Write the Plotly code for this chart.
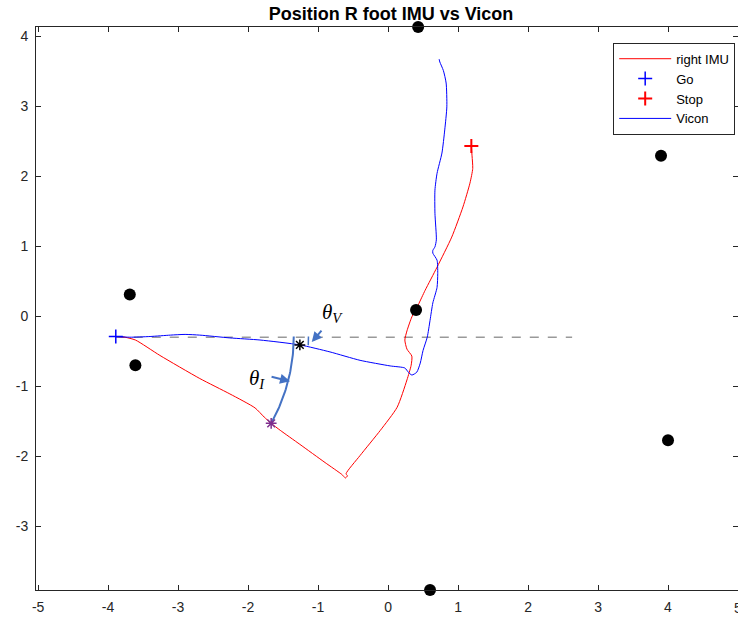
import numpy as np
import plotly.graph_objects as go

# IMU-estimated right foot track
imu_x = [-3.89, -3.76, -3.61, -3.26, -2.69, -2.26, -1.90, -1.77, -1.67, -1.54, -1.26, -0.90, -0.66,
         -0.64, -0.61, -0.58, -0.60, -0.40, -0.11, 0.13, 0.27, 0.33, 0.34, 0.27, 0.24, 0.27, 0.34,
         0.43, 0.53, 0.70, 0.91, 1.07, 1.17, 1.21, 1.20, 1.19]
imu_y = [-0.29, -0.30, -0.34, -0.56, -0.89, -1.11, -1.31, -1.44, -1.53, -1.63, -1.83, -2.09, -2.26,
         -2.28, -2.31, -2.28, -2.25, -1.99, -1.63, -1.30, -0.91, -0.70, -0.57, -0.47, -0.34, -0.21, -0.01,
         0.16, 0.37, 0.70, 1.13, 1.56, 1.90, 2.11, 2.29, 2.43]

# Vicon reference track
vicon_x = [-3.89, -3.69, -3.40, -3.11, -2.90, -2.69, -2.26, -1.83, -1.26, -0.83, -0.40, 0.03, 0.24,
           0.29, 0.34, 0.41, 0.46, 0.50, 0.56, 0.60, 0.64, 0.70, 0.71, 0.70, 0.64, 0.64, 0.67, 0.69,
           0.67, 0.67, 0.70, 0.77, 0.81, 0.84, 0.83, 0.79, 0.74, 0.73]
vicon_y = [-0.29, -0.30, -0.29, -0.27, -0.26, -0.27, -0.31, -0.34, -0.41, -0.51, -0.63, -0.71, -0.74,
           -0.80, -0.84, -0.80, -0.67, -0.49, -0.30, -0.06, 0.19, 0.41, 0.61, 0.80, 0.90, 0.94, 0.99, 1.09,
           1.47, 1.80, 2.04, 2.33, 2.66, 2.99, 3.33, 3.51, 3.63, 3.67]

go_point = (-3.89, -0.29)
stop_point = (1.19, 2.43)

# Landmarks
land_x = [0.43, -3.69, -3.61, 0.40, 3.90, 4.00, 0.60]
land_y = [4.13, 0.31, -0.70, 0.09, 2.29, -1.77, -3.91]

# Heading reference and the points where heading is measured
ref_x = [-3.89, 2.63]
ref_y = [-0.30, -0.30]
vicon_mark = (-1.26, -0.41)
imu_mark = (-1.67, -1.53)

x_ticks = list(range(-5, 6))
y_ticks = list(range(-3, 5))

AX = "#262626"
ARC = "#4472C4"
PURPLE = "#7E2F8E"

fig = go.Figure()

fig.add_trace(go.Scatter(x=ref_x, y=ref_y, mode="lines", showlegend=False,
                         line=dict(color="#999999", width=1.5, dash="dash")))
fig.add_trace(go.Scatter(x=imu_x, y=imu_y, mode="lines", name="right IMU",
                         line=dict(color="#FF0000", width=1, shape="spline", smoothing=0.6)))
fig.add_trace(go.Scatter(x=[go_point[0]], y=[go_point[1]], mode="markers", name="Go",
                         marker=dict(symbol="cross-thin", size=10, color="#0000FF",
                                     line=dict(color="#0000FF", width=1.5))))
fig.add_trace(go.Scatter(x=[stop_point[0]], y=[stop_point[1]], mode="markers", name="Stop",
                         marker=dict(symbol="cross-thin", size=10, color="#FF0000",
                                     line=dict(color="#FF0000", width=2))))
fig.add_trace(go.Scatter(x=vicon_x, y=vicon_y, mode="lines", name="Vicon",
                         line=dict(color="#0000FF", width=1, shape="spline", smoothing=0.6)))
fig.add_trace(go.Scatter(x=land_x, y=land_y, mode="markers", showlegend=False, cliponaxis=False,
                         marker=dict(color="black", size=12)))

# Angle arcs centred on the start point
def arc(center, end, radius):
    ang = np.arctan2(end[1] - center[1], end[0] - center[0])
    t = np.linspace(0, ang, 40)
    return center[0] + radius * np.cos(t), center[1] + radius * np.sin(t)

r_i = np.hypot(imu_mark[0] - go_point[0], imu_mark[1] - go_point[1])
ax_i, ay_i = arc(go_point, imu_mark, r_i)
fig.add_trace(go.Scatter(x=ax_i, y=ay_i, mode="lines", showlegend=False,
                         line=dict(color=ARC, width=2)))
r_v = np.hypot(vicon_mark[0] - go_point[0], vicon_mark[1] - go_point[1]) + 0.12
ax_v, ay_v = arc(go_point, vicon_mark, r_v)
fig.add_trace(go.Scatter(x=ax_v, y=ay_v, mode="lines", showlegend=False,
                         line=dict(color=ARC, width=1.5)))

fig.add_trace(go.Scatter(x=[vicon_mark[0]], y=[vicon_mark[1]], mode="markers", showlegend=False,
                         marker=dict(symbol="asterisk-open", size=9, color="black",
                                     line=dict(color="black", width=1.5))))
fig.add_trace(go.Scatter(x=[imu_mark[0]], y=[imu_mark[1]], mode="markers", showlegend=False,
                         marker=dict(symbol="asterisk-open", size=9, color=PURPLE,
                                     line=dict(color=PURPLE, width=1.5))))

# Angle labels and pointers
fig.add_annotation(x=-1.09, y=-0.37, ax=11, ay=-13, text="", showarrow=True,
                   arrowhead=2, arrowsize=1, arrowwidth=2, arrowcolor=ARC)
fig.add_annotation(x=-1.40, y=-0.93, ax=-20, ay=-5, text="", showarrow=True,
                   arrowhead=2, arrowsize=1, arrowwidth=2, arrowcolor=ARC)
fig.add_annotation(x=-0.80, y=0.05, text="<i>θ</i><sub><i>V</i></sub>", showarrow=False,
                   font=dict(family="Liberation Serif", size=21, color="black"))
fig.add_annotation(x=-1.87, y=-0.90, text="<i>θ</i><sub><i>I</i></sub>", showarrow=False,
                   font=dict(family="Liberation Serif", size=21, color="black"))

tick_font = dict(family="Liberation Sans", size=14, color=AX)
axis_common = dict(showgrid=False, zeroline=False, showline=True, linecolor=AX, linewidth=1,
                   mirror="ticks", ticks="inside", ticklen=5, tickcolor=AX, tickfont=tick_font)

# The last x tick sits on the right page edge, so its label is set as paper text
fig.add_annotation(xref="paper", yref="paper", x=1.0, y=0, yshift=-18, xanchor="center",
                   yanchor="middle", text=str(x_ticks[-1]), showarrow=False, font=tick_font)

fig.update_layout(
    width=738, height=617,
    margin=dict(l=36, r=0, t=27, b=27),
    paper_bgcolor="white", plot_bgcolor="white",
    title=dict(text="<b>Position R foot IMU vs Vicon</b>", x=391 / 738, xanchor="center",
               y=1 - 14 / 617, yanchor="middle",
               font=dict(family="Liberation Sans", size=18, color="black")),
    xaxis=dict(range=[-5.03, 5.0], tickvals=x_ticks[:-1],
               ticktext=[str(v) for v in x_ticks[:-1]], ticklabelstandoff=4, **axis_common),
    yaxis=dict(range=[-3.91, 4.13], tickvals=y_ticks,
               ticktext=[str(v) for v in y_ticks], ticklabelstandoff=4, **axis_common),
    legend=dict(x=0.996, y=0.972, xanchor="right", yanchor="top", bgcolor="white",
                bordercolor=AX, borderwidth=1, tracegroupgap=0, itemwidth=52,
                font=dict(family="Liberation Sans", size=13, color="black")),
)

fig.write_html("out.html")
